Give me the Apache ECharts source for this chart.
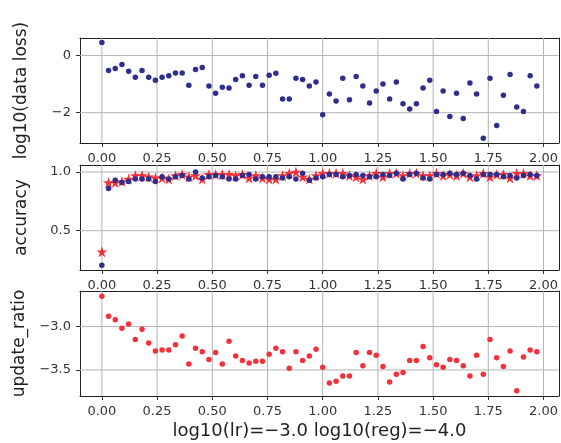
<!DOCTYPE html>
<html>
<head>
<meta charset="utf-8">
<script src="https://cdn.jsdelivr.net/npm/echarts@6/dist/echarts.min.js"></script>
<style>
    html, body { margin: 0; padding: 0; background: #fff; }
    #chart { width: 561px; height: 443px; }
    #err { position: absolute; left: 0; top: 0; font: 10px monospace; color: #c00; }
</style>
</head>
<body>
<div id="chart"></div>
<div id="err"></div>
<script>
window.onerror = function (msg) {
    document.getElementById('err').textContent += msg + ' | ';
};

// iterations are plotted in epochs, 33 iterations per epoch
var itersPerEpoch = 33;
var xTicks = [0, 0.25, 0.5, 0.75, 1.0, 1.25, 1.5, 1.75, 2.0];

var lossTicks = [-2, 0];
var accTicks = [0.5, 1.0];
var ratioTicks = [-3.5, -3.0];

// log10(data loss)
var dataLoss = [0.45, -0.53, -0.46, -0.32, -0.55, -0.76, -0.53, -0.76, -0.87, -0.76,
    -0.71, -0.61, -0.61, -1.04, -0.49, -0.42, -1.07, -1.32, -1.11, -1.14,
    -0.84, -0.71, -1.04, -0.74, -1.04, -0.69, -0.62, -1.52, -1.52, -0.80,
    -0.84, -1.07, -0.93, -2.07, -1.35, -1.59, -0.80, -1.55, -0.74, -1.07,
    -1.66, -1.24, -1.00, -1.52, -0.93, -1.69, -1.87, -1.69, -1.14, -0.87,
    -1.96, -1.24, -2.13, -1.32, -2.20, -0.96, -1.35, -2.89, -0.80, -2.45,
    -1.39, -0.67, -1.80, -1.96, -0.71, -1.07];

// train accuracy (blue dots)
var trainAcc = [0.205, 0.86, 0.93, 0.91, 0.92, 0.94, 0.94, 0.94, 0.92, 0.96,
    0.94, 0.96, 0.97, 0.94, 1.0, 0.95, 0.96, 0.97, 0.96, 0.94,
    0.94, 0.97, 0.98, 0.94, 0.96, 0.96, 0.96, 0.95, 0.96, 0.94,
    0.99, 0.93, 0.95, 0.96, 0.98, 0.98, 0.96, 0.97, 0.98, 0.97,
    0.96, 0.96, 0.98, 0.97, 0.99, 0.94, 0.98, 0.99, 0.95, 0.94,
    0.98, 0.98, 0.99, 0.98, 0.99, 0.97, 0.94, 0.98, 0.98, 0.98,
    0.96, 0.97, 0.95, 0.97, 0.98, 0.97];

// validation accuracy (red stars)
var valAcc = [0.32, 0.91, 0.91, 0.92, 0.94, 0.97, 0.97, 0.96, 0.95, 0.95,
    0.94, 0.97, 0.98, 0.96, 0.97, 0.94, 0.98, 0.98, 0.98, 0.98,
    0.97, 0.98, 0.95, 0.97, 0.95, 0.94, 0.94, 0.97, 0.99, 1.0,
    0.96, 0.94, 0.97, 0.99, 0.99, 0.99, 0.99, 0.97, 0.96, 0.94,
    0.97, 0.99, 0.96, 0.99, 0.99, 0.97, 0.99, 0.99, 0.97, 0.97,
    0.99, 0.97, 0.98, 0.97, 0.99, 0.96, 0.97, 0.99, 0.96, 0.98,
    0.98, 0.95, 0.99, 0.99, 0.97, 0.97];

// log10 of update/param ratio
var updateRatio = [-2.65, -2.88, -2.92, -3.02, -2.97, -3.15, -3.03, -3.19, -3.28, -3.27,
    -3.27, -3.21, -3.11, -3.43, -3.25, -3.29, -3.38, -3.30, -3.43, -3.17,
    -3.34, -3.39, -3.42, -3.40, -3.40, -3.32, -3.25, -3.29, -3.48, -3.29,
    -3.39, -3.34, -3.26, -3.47, -3.65, -3.63, -3.57, -3.57, -3.30, -3.45,
    -3.30, -3.33, -3.46, -3.64, -3.55, -3.53, -3.39, -3.39, -3.23, -3.36,
    -3.44, -3.47, -3.38, -3.39, -3.45, -3.57, -3.33, -3.55, -3.15, -3.36,
    -3.46, -3.28, -3.74, -3.35, -3.27, -3.29];

var blue = '#2e2e8c';
var red = '#f2323a';
var gridColor = '#b4b4b4';
var frameColor = '#222';
var starPath = 'path://M50 0L61.23 34.55L97.55 34.55L68.16 55.9L79.39 90.45L50 69.1L20.61 90.45L31.84 55.9L2.45 34.55L38.77 34.55Z';
var font = 'DejaVu Sans';

var xMin = -0.099, xMax = 2.069;
var yRanges = [[-3.06, 0.61], [0.165, 1.06], [-3.80, -2.59]];

function pairs(values) {
    var out = [];
    for (var i = 0; i < values.length; i++) {
        out.push([i / itersPerEpoch, values[i]]);
    }
    return out;
}

function minus(s) {
    return String(s).replace('-', '\u2212');
}

var frameLine = { show: true, onZero: false, lineStyle: { color: frameColor, width: 1 } };

function makeX(idx, name) {
    var ax = {
        type: 'value',
        gridIndex: idx,
        position: 'bottom',
        min: xMin,
        max: xMax,
        axisLine: frameLine,
        axisTick: { show: true, length: 4, customValues: xTicks, lineStyle: { color: '#333' } },
        axisLabel: {
            customValues: xTicks,
            margin: 9,
            fontFamily: font,
            fontSize: 13,
            color: '#333',
            formatter: function (v) { return v.toFixed(2); }
        },
        splitLine: { show: false }
    };
    if (name) {
        ax.name = name;
        ax.nameLocation = 'middle';
        ax.nameGap = 26;
        ax.nameTextStyle = { fontFamily: font, fontSize: 18, color: '#222' };
    }
    return ax;
}

// top / right edges of the frame
function frameX(idx) {
    return {
        type: 'value', gridIndex: idx, position: 'top', min: xMin, max: xMax,
        axisLine: frameLine, axisTick: { show: false }, axisLabel: { show: false }, splitLine: { show: false }
    };
}

function frameY(idx) {
    return {
        type: 'value', gridIndex: idx, position: 'right', min: yRanges[idx][0], max: yRanges[idx][1],
        axisLine: frameLine, axisTick: { show: false }, axisLabel: { show: false }, splitLine: { show: false }
    };
}

function makeY(idx, name, ticks, digits) {
    return {
        type: 'value',
        gridIndex: idx,
        position: 'left',
        min: yRanges[idx][0],
        max: yRanges[idx][1],
        name: name,
        nameLocation: 'middle',
        nameGap: 50,
        nameTextStyle: { fontFamily: font, fontSize: 17, color: '#222' },
        axisLine: frameLine,
        axisTick: { show: true, length: 4, customValues: ticks, lineStyle: { color: '#333' } },
        axisLabel: {
            customValues: ticks,
            margin: 9,
            fontFamily: font,
            fontSize: 13,
            color: '#333',
            formatter: function (v) { return minus(v.toFixed(digits)); }
        },
        splitLine: { show: false }
    };
}

// grid lines: one short line series per tick, spanning the axis range
function gridLines(idx, yTicks) {
    var yr = yRanges[idx];
    var segs = [];
    xTicks.forEach(function (v) { segs.push([[v, yr[0]], [v, yr[1]]]); });
    yTicks.forEach(function (v) { segs.push([[xMin, v], [xMax, v]]); });
    return segs.map(function (seg) {
        return {
            type: 'line',
            xAxisIndex: idx,
            yAxisIndex: idx,
            silent: true,
            symbol: 'none',
            lineStyle: { color: gridColor, width: 1 },
            data: seg
        };
    });
}

var gridBase = { left: 80, right: 2, height: 105 };

var series = [].concat(
    gridLines(0, lossTicks),
    gridLines(1, accTicks),
    gridLines(2, ratioTicks),
    [
        {
            name: 'data loss',
            type: 'scatter',
            xAxisIndex: 0,
            yAxisIndex: 0,
            z: 3,
            symbolSize: 5.5,
            itemStyle: { color: blue, opacity: 1 },
            data: pairs(dataLoss)
        },
        {
            name: 'val acc',
            type: 'scatter',
            xAxisIndex: 1,
            yAxisIndex: 1,
            z: 3,
            symbol: starPath,
            symbolSize: 11,
            itemStyle: { color: red, opacity: 1 },
            data: pairs(valAcc)
        },
        {
            name: 'train acc',
            type: 'scatter',
            xAxisIndex: 1,
            yAxisIndex: 1,
            z: 4,
            symbolSize: 5.5,
            itemStyle: { color: blue, opacity: 1 },
            data: pairs(trainAcc)
        },
        {
            name: 'update ratio',
            type: 'scatter',
            xAxisIndex: 2,
            yAxisIndex: 2,
            z: 3,
            symbolSize: 5.5,
            itemStyle: { color: red, opacity: 1 },
            data: pairs(updateRatio)
        }
    ]
);

var myChart = echarts.init(document.getElementById('chart'));
myChart.setOption({
    animation: false,
    grid: [
        Object.assign({}, gridBase, { top: 38 }),
        Object.assign({}, gridBase, { top: 165 }),
        Object.assign({}, gridBase, { top: 291 })
    ],
    xAxis: [
        makeX(0),
        makeX(1),
        makeX(2, 'log10(lr)=\u22123.0 log10(reg)=\u22124.0'),
        frameX(0),
        frameX(1),
        frameX(2)
    ],
    yAxis: [
        makeY(0, 'log10(data loss)', lossTicks, 0),
        makeY(1, 'accuracy', accTicks, 1),
        makeY(2, 'update_ratio', ratioTicks, 1),
        frameY(0),
        frameY(1),
        frameY(2)
    ],
    series: series
});
</script>
</body>
</html>
